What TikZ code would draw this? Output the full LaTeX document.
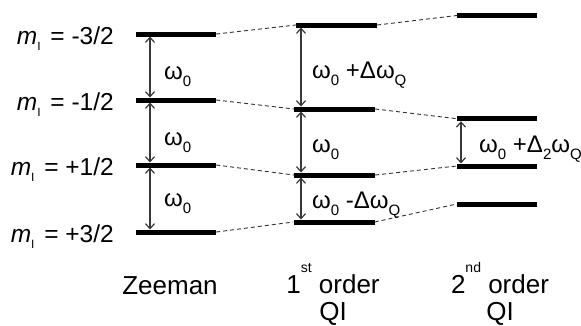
\documentclass[tikz,border=0pt]{standalone}
\usepackage{fontspec}
\setmainfont{Liberation Sans}
\usetikzlibrary{arrows.meta}
\newcommand\lo[1]{\raisebox{-7pt}{\fontsize{15}{15}\selectfont #1}}
\newcommand\hi[1]{\raisebox{21pt}{\fontsize{14}{14}\selectfont #1}}
\newcommand\mI{\textit{m}\raisebox{-6pt}{\fontsize{12}{12}\selectfont I}}
\tikzset{
  level/.style={fill=black, inner sep=0pt, minimum height=5pt, minimum width=80pt},
  trans/.style={draw=black!80, line width=0.9pt, dash pattern=on 4pt off 3pt},
  gap/.style={draw=black!78, line width=1.2pt, {Straight Barb[length=5pt,width=9pt]}-{Straight Barb[length=5pt,width=9pt]}, shorten >=2.5pt, shorten <=2.5pt},
  lbl/.style={anchor=base west, inner sep=0pt, font=\fontsize{24}{24}\selectfont},
  mlbl/.style={anchor=base east, inner sep=0pt, font=\fontsize{24.5}{24.5}\selectfont},
  captxt/.style={anchor=base, inner sep=0pt, font=\fontsize{26}{26}\selectfont}
}
\begin{document}
\begin{tikzpicture}[x=1pt,y=-1pt]
\useasboundingbox (0,0) rectangle (581,325);
% Zeeman levels
\node[level] (z1) at (176,34) {};
\node[level] (z2) at (176,100) {};
\node[level] (z3) at (176,165) {};
\node[level] (z4) at (176,232) {};
% 1st order
\node[level, minimum width=81pt] (f1) at (336.5,25) {};
\node[level, minimum width=81pt] (f2) at (334.5,109) {};
\node[level, minimum width=81pt] (f3) at (334.5,175) {};
\node[level, minimum width=81pt] (f4) at (334,222) {};
% 2nd order
\node[level] (s1) at (497,15.5) {};
\node[level] (s2) at (497,118.7) {};
\node[level] (s3) at (497,166) {};
\node[level] (s4) at (497,204) {};
% dashed correlations
\foreach \i in {1,2,3,4}{
  \draw[trans] (z\i.east) -- (f\i.west);
  \draw[trans] (f\i.east) -- (s\i.west);
}
% arrows
\draw[gap] (z1.center -| 150,0) -- (z2.center -| 150,0);
\draw[gap] (z2.center -| 150,0) -- (z3.center -| 150,0);
\draw[gap] (z3.center -| 150,0) -- (z4.center -| 150,0);
\draw[gap] (f1.center -| 301,0) -- (f2.center -| 301,0);
\draw[gap] (f2.center -| 301,0) -- (f3.center -| 301,0);
\draw[gap] (f3.center -| 301,0) -- (f4.center -| 301,0);
\draw[gap] (s2.center -| 461,0) -- (s3.center -| 461,0);
% gap labels
\node[lbl] (w1) at (164,79) {ω\lo{0}};
\node[lbl] (w2) at (164,145) {ω\lo{0}};
\node[lbl] (w3) at (164,206) {ω\lo{0}};
\node[lbl] (w4) at (312,78) {ω\lo{0} +Δω\lo{Q}};
\node[lbl] (w5) at (312,152) {ω\lo{0}};
\node[lbl] (w6) at (312,208) {ω\lo{0} -Δω\lo{Q}};
\node[lbl] (w7) at (479,152) {ω\lo{0} +Δ\lo{2}ω\lo{Q}};
% m_I labels
\node[mlbl] (m1) at (114,44) {\mI\hspace{3pt} = -3/2};
\node[mlbl] (m2) at (114,110) {\mI\hspace{3pt} = -1/2};
\node[mlbl] (m3) at (114,175) {\mI\hspace{3pt} = +1/2};
\node[mlbl] (m4) at (114,242) {\mI\hspace{3pt} = +3/2};
% captions
\node[captxt] (c1) at (170,294) {Zeeman};
\node[captxt] (c2) at (333,293) {1\hi{st} order};
\node[captxt] (c3) at (333,320.5) {QI};
\node[captxt] (c4) at (500,293) {2\hi{nd} order};
\node[captxt] (c5) at (500,320.5) {QI};
\end{tikzpicture}
\end{document}
